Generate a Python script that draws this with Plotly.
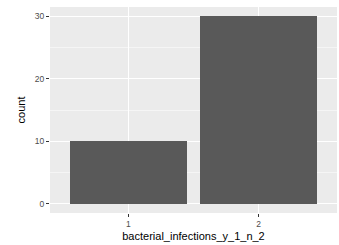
import plotly.graph_objects as go

categories = ["1", "2"]
counts = [10, 30]
y_ticks = [0, 10, 20, 30]

fig = go.Figure(go.Bar(
    x=[1, 2], y=counts, width=0.9,
    marker=dict(color="#595959", line=dict(width=0)),
))

fig.update_layout(
    width=339, height=245,
    margin=dict(l=50, r=2, t=7, b=32),
    paper_bgcolor="white", plot_bgcolor="#EBEBEB",
    font=dict(family="Liberation Sans, Arial, sans-serif", color="#4D4D4D", size=8),
    showlegend=False,
    bargap=0,
)
fig.update_xaxes(
    range=[0.4, 2.6], tickvals=[1, 2], ticktext=categories,
    showgrid=True, gridcolor="white", gridwidth=1.1,
    ticks="outside", ticklen=3, tickcolor="#333333", tickwidth=1,
    zeroline=False, showline=False,
    title=dict(text="bacterial_infections_y_1_n_2", font=dict(size=11, color="black"), standoff=4),
    tickfont=dict(size=8.5, color="#4D4D4D"),
)
fig.update_yaxes(
    range=[-1.5, 31.5], tickvals=y_ticks,
    showgrid=True, gridcolor="white", gridwidth=1.1,
    minor=dict(tickvals=[5, 15, 25], showgrid=True, gridcolor="white", gridwidth=0.5, ticks=""),
    ticks="outside", ticklen=3, tickcolor="#333333", tickwidth=1,
    zeroline=False, showline=False,
    title=dict(text="count", font=dict(size=11, color="black"), standoff=6),
    tickfont=dict(size=8.5, color="#4D4D4D"),
)

fig.write_html(
    "out.html",
    config={"displayModeBar": False, "staticPlot": True},
    post_script="document.body.style.margin='0';document.body.style.padding='0';",
)
